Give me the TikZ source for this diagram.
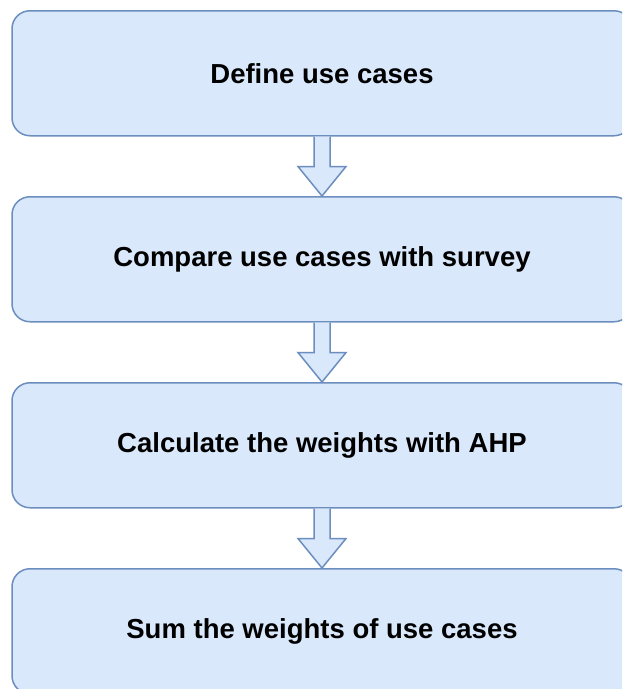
\documentclass[tikz,border=0pt]{standalone}
\usepackage{fontspec}
\setmainfont{Liberation Sans}
\usetikzlibrary{calc}
\definecolor{boxfill}{HTML}{DAE8FC}
\definecolor{boxline}{HTML}{6C8EBF}
\begin{document}
\begin{tikzpicture}[x=1pt,y=1pt,
  stepbox/.style={draw=boxline, fill=boxfill, line width=1.5pt, rounded corners=18pt,
    minimum width=620pt, minimum height=125pt,
    font=\fontsize{27.5}{33}\selectfont\bfseries, anchor=north, inner sep=0pt},
  blockarrow/.style={draw=boxline, fill=boxfill, line width=1.5pt, line join=miter}]
\clip (0,0) rectangle (622,-689);
\fill[white] (0,0) rectangle (622,-689);
\node[stepbox] (s1) at (322,-10) {Define use cases};
\node[stepbox] (s2) at (322,-196) {Compare use cases with survey};
\node[stepbox] (s3) at (322,-382) {Calculate the weights with AHP};
\node[stepbox] (s4) at (322,-568) {Sum the weights of use cases};
\foreach \a/\b in {s1/s2,s2/s3,s3/s4}{
  \draw[blockarrow] ($(\a.south)+(-8,0)$) -- ++(0,-30) -- ++(-16,0) -- (\b.north)
    -- ($(\a.south)+(24,-30)$) -- ++(-16,0) -- ++(0,30);
}
\end{tikzpicture}
\end{document}
